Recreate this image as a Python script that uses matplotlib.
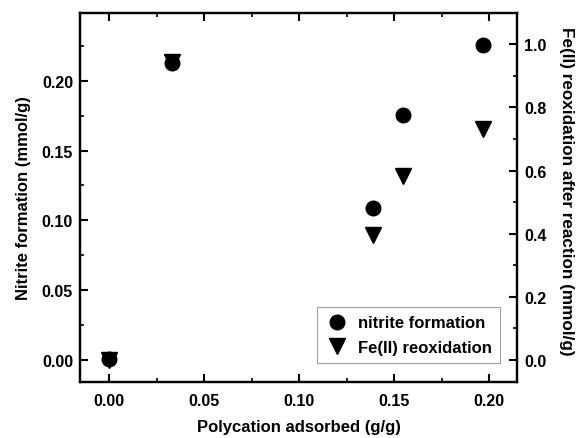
import matplotlib
matplotlib.use("Agg")
import matplotlib.pyplot as plt
from matplotlib.ticker import MultipleLocator

plt.rcParams['font.family'] = ['Liberation Sans', 'DejaVu Sans']
plt.rcParams['font.weight'] = 'bold'

x_nitrite = [0.0, 0.033, 0.139, 0.1545, 0.197]
nitrite = [0.001, 0.2125, 0.1086, 0.1757, 0.2258]
x_fe = [0.0, 0.033, 0.139, 0.1545, 0.197]
fe_reox = [0.0, 0.945, 0.397, 0.584, 0.732]

xlabel = 'Polycation adsorbed (g/g)'
ylabel_left = 'Nitrite formation (mmol/g)'
ylabel_right = 'Fe(II) reoxidation after reaction (mmol/g)'
legend_labels = ['nitrite formation', 'Fe(II) reoxidation']

fig = plt.figure(figsize=(5.82, 4.39), dpi=100)
ax = fig.add_axes([80/582, 1-383/439, (517-80)/582, (383-14)/439])
ax2 = ax.twinx()

h1, = ax.plot(x_nitrite, nitrite, 'o', color='black', markersize=10.5, linestyle='none')
h2, = ax2.plot(x_fe, fe_reox, 'v', color='black', markersize=11, linestyle='none')

ax.set_xlim(-0.0155, 0.2147)
ax.set_ylim(-0.0158, 0.2485)
ax2.set_ylim(-0.0704, 1.0996)

ax.xaxis.set_major_locator(MultipleLocator(0.05))
ax.xaxis.set_minor_locator(MultipleLocator(0.025))
ax.yaxis.set_major_locator(MultipleLocator(0.05))
ax.yaxis.set_minor_locator(MultipleLocator(0.025))
ax2.yaxis.set_major_locator(MultipleLocator(0.2))
ax2.yaxis.set_minor_locator(MultipleLocator(0.1))

ax.xaxis.set_major_formatter(plt.FormatStrFormatter('%.2f'))
ax.yaxis.set_major_formatter(plt.FormatStrFormatter('%.2f'))
ax2.yaxis.set_major_formatter(plt.FormatStrFormatter('%.1f'))

for a in (ax, ax2):
    for s in a.spines.values():
        s.set_linewidth(1.6)

ax.tick_params(axis='both', which='major', direction='in', length=5.5, width=1.5, labelsize=11.5, pad=5)
ax.tick_params(axis='both', which='minor', direction='in', length=3, width=1.2)
ax.tick_params(axis='x', which='both', top=True)
ax.tick_params(axis='x', which='major', pad=8)
ax2.tick_params(axis='y', which='major', direction='in', length=5.5, width=1.5, labelsize=11.5, pad=5)
ax2.tick_params(axis='y', which='minor', direction='in', length=3, width=1.2)

for lab in ax.get_xticklabels() + ax.get_yticklabels() + ax2.get_yticklabels():
    lab.set_fontweight('bold')

ax.set_xlabel(xlabel, fontsize=12, fontweight='bold', labelpad=8)
ax.set_ylabel(ylabel_left, fontsize=12, fontweight='bold', labelpad=8)
ax2.set_ylabel(ylabel_right, fontsize=12.3, fontweight='bold', rotation=270, labelpad=21)
ax2.yaxis.set_label_coords(1.13, 0.52)

leg = ax.legend([h1, h2], legend_labels, loc='lower right', frameon=True, fancybox=False,
                prop={'weight': 'bold', 'size': 12}, borderpad=0.5, borderaxespad=0,
                handletextpad=0.55, bbox_to_anchor=((500-80)/437, (383-364)/369),
                labelspacing=0.55, handlelength=1.4)
leg.get_frame().set_edgecolor('#888888')
leg.get_frame().set_linewidth(0.8)

fig.savefig('out.png', dpi=100)
